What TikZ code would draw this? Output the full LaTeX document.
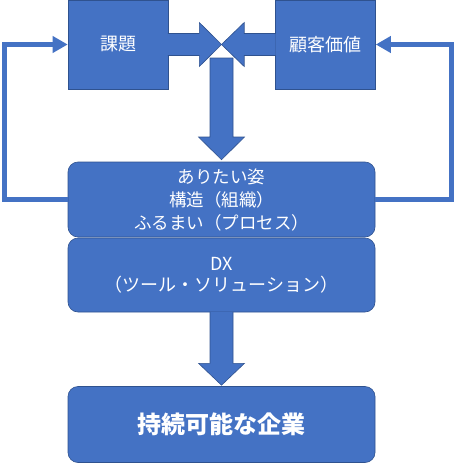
\documentclass[tikz,border=0pt]{standalone}
\usepackage{fontspec}
\setmainfont{Noto Sans CJK JP}
\usetikzlibrary{arrows.meta,calc}
\definecolor{ofblue}{HTML}{4472C4}
\definecolor{ofedge}{HTML}{2F528F}
\tikzset{
  box/.style={fill=ofblue, draw=ofedge, line width=0.6pt, text=white, inner sep=0pt, align=center},
  topbox/.style={box, minimum width=100pt, minimum height=89pt, font=\fontsize{18}{22}\selectfont},
  widebox/.style={box, rounded corners=10pt, minimum width=307pt},
  blockarrow/.style={fill=ofblue, draw=ofedge, line width=0.6pt, line join=miter},
  loopline/.style={draw=ofblue, line width=5pt, line join=miter, -{Triangle[length=15pt,width=16pt]}}
}
\begin{document}
\begin{tikzpicture}[x=1pt,y=-1pt]
\useasboundingbox (0,0) rectangle (456,463);
\node[topbox] (kadai) at (118,44.5) {課題};
\node[topbox] (kachi) at (325.5,44.5) {顧客価値};
\node[widebox, minimum height=75pt, font=\fontsize{17.5}{23}\selectfont] (sugata) at (221.5,199.5) {ありたい姿\\構造（組織）\\ふるまい（プロセス）};
\node[widebox, minimum height=74pt, font=\fontsize{18}{21}\selectfont] (dx) at (221.5,275) {DX\\（ツール・ソリューション）};
\node[widebox, minimum height=76pt, font=\fontsize{24}{28}\selectfont\bfseries] (kigyo) at (221.5,424.5) {持続可能な企業};
\coordinate (meet) at (221.5,44.5);
\coordinate (dtop) at (221.5,58);
% block arrows
\draw[blockarrow] ($(kadai.east)+(-0.5,-11)$) -- ++(31.5,0) -- ++(0,-11) -- (meet) -- ($(kadai.east)+(31,22)$) -- ++(0,-11) -- ($(kadai.east)+(-0.5,11)$);
\draw[blockarrow] ($(kachi.west)+(0.5,-11)$) -- ++(-31.5,0) -- ++(0,-11) -- (meet) -- ($(kachi.west)+(-31,22)$) -- ++(0,-11) -- ($(kachi.west)+(0.5,11)$);
\draw[blockarrow] ($(dtop)+(-11.5,0)$) -- ++(23,0) -- ++(0,79) -- ++(11.5,0) -- ($(sugata.north)+(0,-2)$) -- ($(dtop)+(-23,79)$) -- ++(11.5,0) -- cycle;
\draw[blockarrow] ($(dx.south)+(-11.5,-0.5)$) -- ++(0,51.5) -- ++(-11.5,0) -- ($(kigyo.north)+(0,-1)$) -- ($(dx.south)+(23,51)$) -- ++(-11.5,0) -- ($(dx.south)+(11.5,-0.5)$);
% feedback loops
\draw[loopline] (sugata.west) -- ++(-63.5,0) |- (kadai.west);
\draw[loopline] (sugata.east) -- ++(76.5,0) |- (kachi.east);
\end{tikzpicture}
\end{document}
